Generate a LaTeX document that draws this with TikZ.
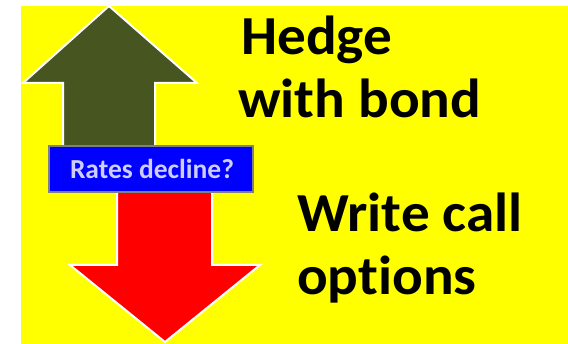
\documentclass[tikz,border=0pt]{standalone}
\usepackage{fontspec}
\setmainfont[RawFeature=-liga]{Carlito}
\newfontfamily\captionface[RawFeature=-liga,FakeStretch=1.04]{Carlito}
\definecolor{olivedark}{RGB}{71,85,32}
\definecolor{bannertext}{RGB}{205,205,255}
\definecolor{brightyellow}{RGB}{255,255,0}
\definecolor{pureblue}{RGB}{0,0,255}
\definecolor{purered}{RGB}{255,0,0}
\begin{document}
\begin{tikzpicture}[x=1pt,y=-1pt,
  arrowshape/.style={draw=white,line width=2pt,line join=miter},
  bigtext/.style={font=\captionface\bfseries\fontsize{55}{63}\selectfont,text=black,inner sep=0pt,anchor=base west},
  bannerbox/.style={fill=pureblue,draw=gray,line width=1.5pt,rectangle,minimum width=204pt,minimum height=46pt,inner sep=0pt},
  bannerlabel/.style={font=\bfseries\fontsize{27.5}{30}\selectfont,text=bannertext,inner sep=0pt,anchor=base}]
\useasboundingbox (0,0) rectangle (568,344);
\fill[white] (0,0) rectangle (568,344);
\fill[brightyellow] (21,6) rectangle (568,344);
% upward arrow
\filldraw[arrowshape,fill=olivedark] (109,6) -- (197,83) -- (155,83) -- (155,150) -- (63,150) -- (63,83) -- (23,83) -- cycle;
% downward arrow
\filldraw[arrowshape,fill=purered] (117,188) -- (212,188) -- (212,265) -- (260,265) -- (165,342) -- (70,265) -- (117,265) -- cycle;
% banner across both arrows
\node[bannerbox] (banner) at (151,169) {};
\node[bannerlabel] (bannertxt) at (152,179) {Rates decline?};
% captions
\node[bigtext] (hedge1) at (241,55) {Hedge};
\node[bigtext] (hedge2) at (238,118) {with bond};
\node[bigtext] (write1) at (297,232) {Write call};
\node[bigtext] (write2) at (297,295) {options};
\end{tikzpicture}
\end{document}
